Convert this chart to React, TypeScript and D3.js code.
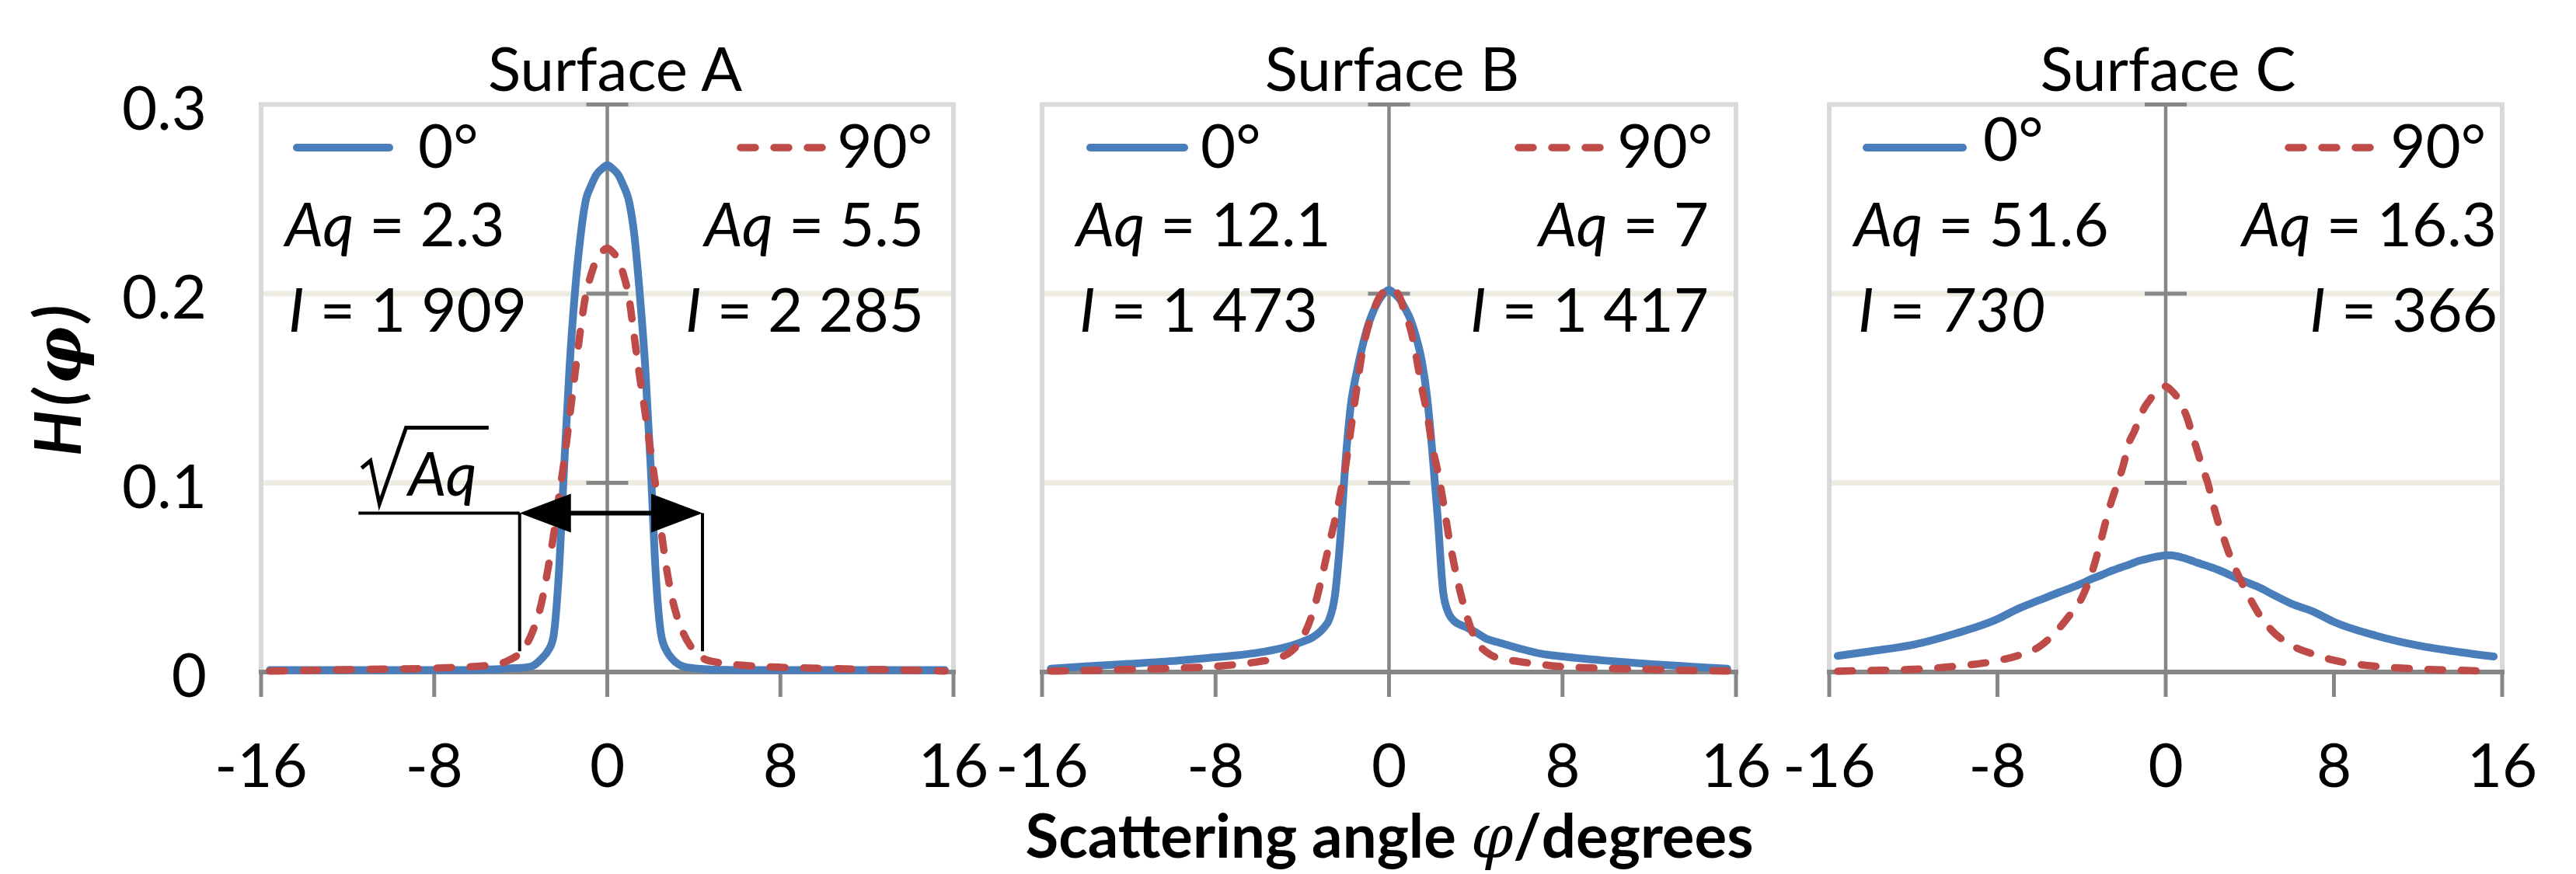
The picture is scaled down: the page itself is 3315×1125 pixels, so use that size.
import React from "react";
import * as d3 from "d3";

// scattering angle grid (degrees)
const phi = [-15.6, -14, -12, -10, -8, -7, -6, -5, -4.5, -4, -3.5, -3, -2.75, -2.5, -2.25, -2, -1.75, -1.5, -1.25, -1, -0.75, -0.5, -0.25,
  0, 0.25, 0.5, 0.75, 1, 1.25, 1.5, 1.75, 2, 2.25, 2.5, 2.75, 3, 3.5, 4, 4.5, 5, 6, 7, 8, 10, 12, 14, 15.6];

// H(phi), 0 deg and 90 deg, per surface
const h0A = [0.001, 0.001, 0.001, 0.001, 0.001, 0.001, 0.0012, 0.0015, 0.002, 0.0022, 0.003, 0.0075, 0.011, 0.018, 0.05, 0.107, 0.16, 0.2, 0.229, 0.249, 0.257, 0.263, 0.266,
  0.268, 0.266, 0.263, 0.257, 0.249, 0.231, 0.2, 0.162, 0.11, 0.05, 0.019, 0.011, 0.007, 0.003, 0.002, 0.0015, 0.0012, 0.001, 0.001, 0.001, 0.001, 0.001, 0.001, 0.001];
const h90A = [0.0005, 0.0008, 0.0012, 0.0016, 0.002, 0.0025, 0.003, 0.0043, 0.0065, 0.0105, 0.02, 0.0386, 0.054, 0.071, 0.0915, 0.111, 0.134, 0.157, 0.18, 0.199, 0.21, 0.218, 0.222,
  0.224, 0.222, 0.218, 0.21, 0.198, 0.177, 0.156, 0.137, 0.117, 0.097, 0.074, 0.054, 0.039, 0.021, 0.0115, 0.0068, 0.0053, 0.0038, 0.003, 0.0025, 0.0019, 0.0014, 0.0009, 0.0005];
const h0B = [0.0017, 0.003, 0.0043, 0.0058, 0.0078, 0.0088, 0.0103, 0.0125, 0.014, 0.016, 0.0185, 0.0235, 0.028, 0.04, 0.07, 0.112, 0.142, 0.158, 0.171, 0.182, 0.19, 0.196, 0.2,
  0.202, 0.2, 0.197, 0.192, 0.186, 0.177, 0.165, 0.146, 0.116, 0.081, 0.042, 0.031, 0.027, 0.024, 0.021, 0.0175, 0.0158, 0.0125, 0.0097, 0.0082, 0.006, 0.0042, 0.0028, 0.0017];
const h90B = [0.0005, 0.0008, 0.0014, 0.002, 0.003, 0.004, 0.0055, 0.0078, 0.011, 0.018, 0.032, 0.055, 0.068, 0.08, 0.094, 0.109, 0.129, 0.149, 0.168, 0.181, 0.19, 0.197, 0.201,
  0.203, 0.202, 0.198, 0.189, 0.181, 0.167, 0.151, 0.137, 0.119, 0.106, 0.09, 0.072, 0.057, 0.033, 0.017, 0.0105, 0.0075, 0.0055, 0.004, 0.0028, 0.002, 0.0014, 0.0008, 0.0005];
const h0C = [0.0085, 0.011, 0.0144, 0.0203, 0.028, 0.0335, 0.038, 0.0424, 0.0445, 0.0468, 0.0493, 0.0515, 0.0527, 0.0538, 0.0548, 0.0558, 0.0567, 0.0578, 0.0588, 0.0595, 0.0602, 0.0608, 0.0613,
  0.0617, 0.0617, 0.0613, 0.0606, 0.0598, 0.0588, 0.0578, 0.0569, 0.056, 0.055, 0.054, 0.0528, 0.0515, 0.049, 0.0468, 0.0445, 0.0415, 0.036, 0.032, 0.0265, 0.0192, 0.014, 0.0105, 0.0082];
const h90C = [0.0004, 0.0008, 0.0014, 0.003, 0.006, 0.0088, 0.0135, 0.024, 0.031, 0.039, 0.053, 0.073, 0.084, 0.093, 0.101, 0.11, 0.121, 0.127, 0.134, 0.14, 0.144, 0.148, 0.15,
  0.151, 0.149, 0.146, 0.141, 0.135, 0.126, 0.117, 0.108, 0.1, 0.089, 0.079, 0.071, 0.063, 0.05, 0.039, 0.0295, 0.0225, 0.014, 0.0095, 0.0062, 0.003, 0.0016, 0.0009, 0.0004];

const surfaces = ["Surface A", "Surface B", "Surface C"];
const series0 = [h0A, h0B, h0C];
const series90 = [h90A, h90B, h90C];
const aq0 = ["2.3", "12.1", "51.6"];
const aq90 = ["5.5", "7", "16.3"];
const i0 = ["1 909", "1 473", "730"];
const i90 = ["2 285", "1 417", "366"];
const i0Italic = [false, false, true];

const xTicks = [-16, -8, 0, 8, 16];
const yTicks = [0, 0.1, 0.2, 0.3];
const gridTicks = [0.1, 0.2];

// sqrt(Aq) marker on surface A, in data units
const markFrom = -4.05, markTo = 4.4, markLevel = 0.084, markFoot = 0.011, markLead = -11.5;

const BLUE = "#4a7ebb";
const RED = "#be4b48";
const AXIS = "#868686";
const FONT = "Lato, 'Open Sans', sans-serif";
const FS = 78;

// pixel layout of the three plot areas
const panels = [
  { x0: 336, x1: 1227, title: 10, leg0: [46, 165, 202, 216], leg90: [-274, -156, -27], aqL: 31, iL: 35, aqR: -38, iR: -38 },
  { x0: 1341, x1: 2234, title: 4, leg0: [62, 183, 204, 216], leg90: [-280, -159, -30], aqL: 44, iL: 48, aqR: -35, iR: -35 },
  { x0: 2354, x1: 3220, title: 3, leg0: [48, 172, 198, 207], leg90: [-275, -152, -21], aqL: 32, iL: 37, aqR: -7, iR: -6 },
];
const yTop = 134.5, yBot = 865;

const y = d3.scaleLinear().domain([0, 0.3]).range([yBot, yTop]);

function Panel({ k }: { k: number }) {
  const p = panels[k];
  const x = d3.scaleLinear().domain([-16, 16]).range([p.x0, p.x1]);
  const line = d3.line<number>().x((_, i) => x(phi[i])).y((d) => y(d)).curve(d3.curveMonotoneX);
  const x0 = x(0);
  const cx = (p.x0 + p.x1) / 2;
  return (
    <g>
      {gridTicks.map((t) => (
        <line key={t} x1={p.x0} x2={p.x1} y1={y(t)} y2={y(t)} stroke="#eeece1" strokeWidth={7} />
      ))}
      <rect x={p.x0} y={yTop} width={p.x1 - p.x0} height={yBot - yTop} fill="none" stroke="#d9d9d9" strokeWidth={6} />
      <line x1={x0} x2={x0} y1={yTop} y2={yBot} stroke={AXIS} strokeWidth={4.5} />
      {yTicks.filter((t) => t > 0).map((t) => (
        <line key={t} x1={x0 - 27} x2={x0 + 27} y1={y(t)} y2={y(t)} stroke={AXIS} strokeWidth={5} />
      ))}
      <line x1={p.x0 - 3} x2={p.x1 + 3} y1={yBot} y2={yBot} stroke={AXIS} strokeWidth={6} />
      {xTicks.map((t) => (
        <line key={t} x1={x(t)} x2={x(t)} y1={yBot} y2={yBot + 32} stroke={AXIS} strokeWidth={5} />
      ))}
      {xTicks.map((t) => (
        <text key={"l" + t} x={x(t)} y={1013} textAnchor="middle" fontSize={FS}>{String(t)}</text>
      ))}

      <path d={line(series0[k]) || ""} fill="none" stroke={BLUE} strokeWidth={10} strokeLinejoin="round" strokeLinecap="round" />
      <path d={line(series90[k]) || ""} fill="none" stroke={RED} strokeWidth={9.5} strokeDasharray="19 24" strokeLinejoin="round" strokeLinecap="round" />

      <text x={cx + p.title} y={117} textAnchor="middle" fontSize={FS}>{surfaces[k]}</text>

      <line x1={p.x0 + p.leg0[0]} x2={p.x0 + p.leg0[1]} y1={190} y2={190} stroke={BLUE} strokeWidth={10} strokeLinecap="round" />
      <text x={p.x0 + p.leg0[2]} y={p.leg0[3]} fontSize={FS}>0°</text>
      <line x1={p.x1 + p.leg90[0]} x2={p.x1 + p.leg90[1]} y1={190} y2={190} stroke={RED} strokeWidth={9.5} strokeDasharray="19 24" strokeLinecap="round" />
      <text x={p.x1 + p.leg90[2]} y={216} textAnchor="end" fontSize={FS}>90°</text>

      <text x={p.x0 + p.aqL} y={317} fontSize={FS}><tspan fontStyle="italic">Aq</tspan> = {aq0[k]}</text>
      <text x={p.x0 + p.iL} y={427} fontSize={FS}>
        <tspan fontStyle="italic">I</tspan> = <tspan fontStyle={i0Italic[k] ? "italic" : "normal"}>{i0[k]}</tspan>
      </text>
      <text x={p.x1 + p.aqR} y={317} textAnchor="end" fontSize={FS}><tspan fontStyle="italic">Aq</tspan> = {aq90[k]}</text>
      <text x={p.x1 + p.iR} y={427} textAnchor="end" fontSize={FS}><tspan fontStyle="italic">I</tspan> = {i90[k]}</text>

      {k === 0 && <SqrtMark x={x} />}
      {k === 0 &&
        yTicks.map((t) => (
          <text key={"y" + t} x={266} y={y(t) + 32} textAnchor="end" fontSize={FS}>{String(t)}</text>
        ))}
    </g>
  );
}

function SqrtMark({ x }: { x: d3.ScaleLinear<number, number> }) {
  const xa = x(markFrom), xb = x(markTo), xl = x(markLead);
  const ym = y(markLevel), yf = y(markFoot);
  const tx = xl + 64, ty = ym - 22;
  const rad = [[-60, -36], [-48.6, -45.5], [-37, 10], [-2.7, -88], [103.5, -88]]
    .map(([dx, dy]) => `${tx + dx},${ty + dy}`).join(" L");
  return (
    <g>
      <line x1={xl} x2={xa} y1={ym} y2={ym} stroke="#000" strokeWidth={4} />
      <line x1={xa} x2={xa} y1={ym} y2={yf} stroke="#000" strokeWidth={4} />
      <line x1={xb} x2={xb} y1={ym} y2={yf} stroke="#000" strokeWidth={4} />
      <line x1={xa + 40} x2={xb - 40} y1={ym} y2={ym} stroke="#000" strokeWidth={6} />
      <polygon points={`${xa},${ym} ${xa + 66},${ym - 25} ${xa + 66},${ym + 25}`} fill="#000" />
      <polygon points={`${xb},${ym} ${xb - 66},${ym - 25} ${xb - 66},${ym + 25}`} fill="#000" />
      <path d={"M" + rad} fill="none" stroke="#000" strokeWidth={5} strokeLinejoin="miter" />
      <text x={tx} y={ty} fontSize={FS} fontStyle="italic">Aq</text>
    </g>
  );
}

export default function App() {
  return (
    <svg width={3315} height={1125} style={{ position: "absolute", left: 0, top: 0, background: "#fff" }}
      fontFamily={FONT} fill="#000">
      <rect width={3315} height={1125} fill="#fff" />
      {panels.map((_, k) => <Panel key={k} k={k} />)}
      <text transform="translate(104,487) rotate(-90)" textAnchor="middle" fontSize={82} fontWeight="bold" fontStyle="italic" letterSpacing={6}>
        H(<tspan fontFamily="'DejaVu Serif', serif">φ</tspan>)
      </text>
      <text x={1788} y={1104} textAnchor="middle" fontSize={78} fontWeight="bold">
        Scattering angle <tspan fontStyle="italic" fontFamily="'DejaVu Serif', serif" fontWeight="normal">φ</tspan>/degrees
      </text>
    </svg>
  );
}
